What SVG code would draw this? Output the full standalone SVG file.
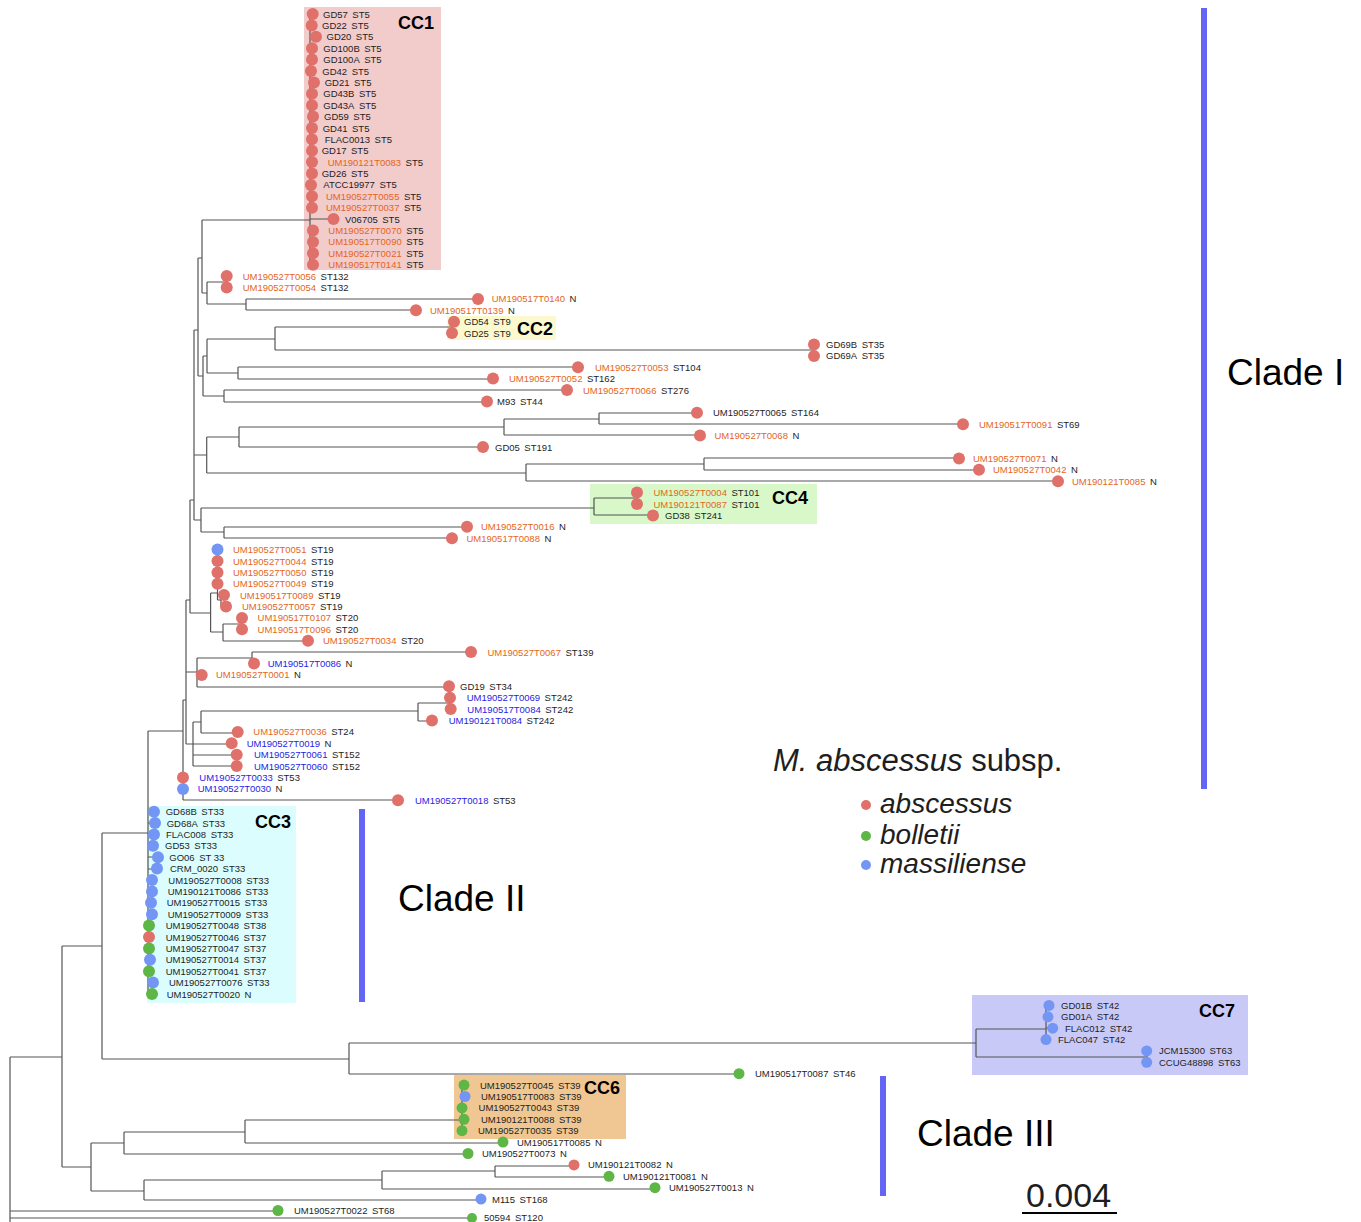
<svg xmlns="http://www.w3.org/2000/svg" width="1361" height="1222" viewBox="0 0 1361 1222">
<style>
text{font-family:"Liberation Sans",Arial,Helvetica,sans-serif;fill:#1e1e1e}
.t{font-size:9.5px}
.o{fill:#e4661c}
.b{fill:#2424e6}
.ab{fill:#e0706a}
.bo{fill:#5db646}
.ma{fill:#7396f4}
.br{fill:none;stroke:#555;stroke-width:1.2}
.cc{font-size:18px;font-weight:bold;fill:#000}
.clade{font-size:37px;fill:#000}
.bar{fill:#6464f5}
</style>
<rect width="1361" height="1222" fill="#fff"/>

<!-- clonal complex shading -->
<g id="cc-boxes">
  <rect id="box-cc1" x="304" y="7" width="137" height="263" fill="#f2cbcb"/>
  <rect id="box-cc2" x="447" y="316" width="109" height="24" fill="#fcf9ce"/>
  <rect id="box-cc4" x="590" y="484" width="227" height="40" fill="#d9f8c9"/>
  <rect id="box-cc3" x="147" y="806" width="149" height="197" fill="#dbfdfd"/>
  <rect id="box-cc7" x="972" y="995" width="276" height="80" fill="#c9c9f7"/>
  <rect id="box-cc6" x="454" y="1075" width="172" height="64" fill="#f0c792"/>
</g>

<!-- branches -->
<g id="connectors" class="br">
  <!-- root and deep splits -->
  <path d="M10,1057V1230M10,1057H62M62,946V1167M62,946H102M102,833V1059M102,833H148M102,1059H349"/>
  <path d="M10,1211H278M10,1218H472"/>
  <!-- CC7 and ST46 -->
  <path d="M349,1043V1074M349,1043H976M349,1074H739"/>
  <path d="M976,1029V1057M976,1029H1046M976,1057H1147M1046,1005V1040M1046,1005H1049M1046,1017H1048M1046,1028H1053M1147,1051V1062"/>
  <!-- lower clade III -->
  <path d="M62,1167H91M91,1143V1191M91,1143H124M124,1132V1154M124,1132H245M124,1154H468"/>
  <path d="M245,1120V1143M245,1120H462M245,1143H503M462,1085V1131M462,1085H464M462,1097H465M462,1119H464"/>
  <path d="M91,1191H144M144,1180V1200M144,1180H382M144,1200H481M382,1171V1189M382,1171H495M382,1189H655M495,1166V1177M495,1166H574M495,1177H609"/>
  <!-- clade II / CC3 -->
  <path d="M148,731V994M148,731H183M148,812H154M148,823H155M148,834H154M148,846H153M148,857H158M148,869H157M148,880H152M148,891H152M148,903H151M148,914H152M148,983H153M148,994H152"/>
  <!-- clade I backbone -->
  <path d="M183,700V800M183,800H398M183,700H186M186,600V744M186,600H190M186,672H197M186,744H193"/>
  <path d="M190,500V613M190,500H194M190,613H210.6M194,330V520M194,330H198M194,455H206.7M194,520H201"/>
  <path d="M198,258V376M198,258H202M198,376H203"/>
  <!-- CC1, ST132 and relatives -->
  <path d="M202,220V293M202,220H310M202,293H207M207,282V304M207,282H227M227,276V288M207,304H246M246,299V310M246,299H478M246,310H416"/>
  <path d="M310,14V265M310,219H334"/>
  <!-- CC2, GD69, ST104/ST162, ST276/ST44 -->
  <path d="M203,356V396M203,356H207M203,396H224M207,339V373M207,339H275M207,373H238"/>
  <path d="M275,327V350M275,327H452M452,321V333M275,350H814M814,344V356"/>
  <path d="M238,367V379M238,367H578M238,379H493M224,390V402M224,390H567M224,402H487"/>
  <!-- ST164/ST69, GD05, long-branch group -->
  <path d="M206.7,437V473M206.7,437H239M239,427V447M239,427H504M239,447H483M504,419V435M504,419H599M504,435H700M599,413V424M599,413H697M599,424H963"/>
  <path d="M206.7,473H526M526,464V481M526,464H704M526,481H1058M704,458V470M704,458H959M704,470H979"/>
  <!-- CC4 and T0016/T0088 -->
  <path d="M201,508V532M201,508H594M594,498V515M594,498H637M637,492V504M594,515H653M201,532H224M224,527V538M224,527H467M224,538H452"/>
  <!-- ST19 / ST20 -->
  <path d="M210.6,593V632M210.6,593H217.5M217.5,549V600M217.5,600H221M221,595V606M221,595H224M221,606H226M210.6,632H223M223,624V641M223,624H242M242,618V629M223,641H308"/>
  <!-- ST139 / GD19 -->
  <path d="M197,658V687M197,658H252M252,652V664M252,652H471M197,675H202M197,687H449"/>
  <!-- ST242, ST24, ST152 -->
  <path d="M193,722V766M193,722H201M201,711V733M201,711H418M418,703V721M418,703H450M450,698V709M418,721H432M201,733H238M193,744H232M193,755H237M193,766H237"/>
</g>

<!-- clade I leaves: CC1 -->
<g id="leaf-GD57"><circle class="ab" cx="312.7" cy="14" r="6"/><text class="t" x="323" y="17.5">GD57<tspan dx="4.5">ST5</tspan></text></g>
<g id="leaf-GD22"><circle class="ab" cx="311.7" cy="25.4" r="6"/><text class="t" x="322" y="28.9">GD22<tspan dx="4.5">ST5</tspan></text></g>
<g id="leaf-GD20"><circle class="ab" cx="316" cy="36.8" r="6"/><text class="t" x="326.5" y="40.3">GD20<tspan dx="4.5">ST5</tspan></text></g>
<g id="leaf-GD100B"><circle class="ab" cx="312" cy="48.2" r="6"/><text class="t" x="323.3" y="51.7">GD100B<tspan dx="4.5">ST5</tspan></text></g>
<g id="leaf-GD100A"><circle class="ab" cx="312" cy="59.6" r="6"/><text class="t" x="323.3" y="63.1">GD100A<tspan dx="4.5">ST5</tspan></text></g>
<g id="leaf-GD42"><circle class="ab" cx="311" cy="71" r="6"/><text class="t" x="322.3" y="74.5">GD42<tspan dx="4.5">ST5</tspan></text></g>
<g id="leaf-GD21"><circle class="ab" cx="314" cy="82.4" r="6"/><text class="t" x="324.7" y="85.9">GD21<tspan dx="4.5">ST5</tspan></text></g>
<g id="leaf-GD43B"><circle class="ab" cx="312" cy="93.8" r="6"/><text class="t" x="323.3" y="97.3">GD43B<tspan dx="4.5">ST5</tspan></text></g>
<g id="leaf-GD43A"><circle class="ab" cx="312" cy="105.2" r="6"/><text class="t" x="323.3" y="108.7">GD43A<tspan dx="4.5">ST5</tspan></text></g>
<g id="leaf-GD59"><circle class="ab" cx="313" cy="116.6" r="6"/><text class="t" x="324" y="120.1">GD59<tspan dx="4.5">ST5</tspan></text></g>
<g id="leaf-GD41"><circle class="ab" cx="312" cy="128" r="6"/><text class="t" x="322.7" y="131.5">GD41<tspan dx="4.5">ST5</tspan></text></g>
<g id="leaf-FLAC0013"><circle class="ab" cx="312" cy="139.3" r="6"/><text class="t" x="324.7" y="142.8">FLAC0013<tspan dx="4.5">ST5</tspan></text></g>
<g id="leaf-GD17"><circle class="ab" cx="312" cy="150.7" r="6"/><text class="t" x="321.7" y="154.2">GD17<tspan dx="4.5">ST5</tspan></text></g>
<g id="leaf-UM190121T0083"><circle class="ab" cx="312" cy="162.1" r="6"/><text class="t" x="327.7" y="165.6"><tspan class="o">UM190121T0083</tspan><tspan dx="4.5">ST5</tspan></text></g>
<g id="leaf-GD26"><circle class="ab" cx="312" cy="173.5" r="6"/><text class="t" x="321.7" y="177">GD26<tspan dx="4.5">ST5</tspan></text></g>
<g id="leaf-ATCC19977"><circle class="ab" cx="311" cy="184.9" r="6"/><text class="t" x="323.3" y="188.4">ATCC19977<tspan dx="4.5">ST5</tspan></text></g>
<g id="leaf-UM190527T0055"><circle class="ab" cx="312" cy="196.3" r="6"/><text class="t" x="326" y="199.8"><tspan class="o">UM190527T0055</tspan><tspan dx="4.5">ST5</tspan></text></g>
<g id="leaf-UM190527T0037"><circle class="ab" cx="312" cy="207.7" r="6"/><text class="t" x="326" y="211.2"><tspan class="o">UM190527T0037</tspan><tspan dx="4.5">ST5</tspan></text></g>
<g id="leaf-V06705"><circle class="ab" cx="333.5" cy="219.1" r="6"/><text class="t" x="345" y="222.6">V06705<tspan dx="4.5">ST5</tspan></text></g>
<g id="leaf-UM190527T0070"><circle class="ab" cx="313" cy="230.5" r="6"/><text class="t" x="328.3" y="234"><tspan class="o">UM190527T0070</tspan><tspan dx="4.5">ST5</tspan></text></g>
<g id="leaf-UM190517T0090"><circle class="ab" cx="313" cy="241.9" r="6"/><text class="t" x="328.3" y="245.4"><tspan class="o">UM190517T0090</tspan><tspan dx="4.5">ST5</tspan></text></g>
<g id="leaf-UM190527T0021"><circle class="ab" cx="313" cy="253.3" r="6"/><text class="t" x="328.3" y="256.8"><tspan class="o">UM190527T0021</tspan><tspan dx="4.5">ST5</tspan></text></g>
<g id="leaf-UM190517T0141"><circle class="ab" cx="313" cy="264.7" r="6"/><text class="t" x="328.3" y="268.2"><tspan class="o">UM190517T0141</tspan><tspan dx="4.5">ST5</tspan></text></g>

<!-- clade I leaves: remaining -->
<g id="leaf-UM190527T0056"><circle class="ab" cx="226.7" cy="276.1" r="6"/><text class="t" x="242.7" y="279.6"><tspan class="o">UM190527T0056</tspan><tspan dx="4.5">ST132</tspan></text></g>
<g id="leaf-UM190527T0054"><circle class="ab" cx="226.7" cy="287.5" r="6"/><text class="t" x="242.7" y="291"><tspan class="o">UM190527T0054</tspan><tspan dx="4.5">ST132</tspan></text></g>
<g id="leaf-UM190517T0140"><circle class="ab" cx="478" cy="298.9" r="6"/><text class="t" x="491.7" y="302.4"><tspan class="o">UM190517T0140</tspan><tspan dx="4.5">N</tspan></text></g>
<g id="leaf-UM190517T0139"><circle class="ab" cx="416" cy="310.3" r="6"/><text class="t" x="430" y="313.8"><tspan class="o">UM190517T0139</tspan><tspan dx="4.5">N</tspan></text></g>
<g id="leaf-GD54"><circle class="ab" cx="454" cy="321.7" r="6"/><text class="t" x="464" y="325.2">GD54<tspan dx="4.5">ST9</tspan></text></g>
<g id="leaf-GD25"><circle class="ab" cx="452" cy="333.1" r="6"/><text class="t" x="464" y="336.6">GD25<tspan dx="4.5">ST9</tspan></text></g>
<g id="leaf-GD69B"><circle class="ab" cx="814" cy="344.5" r="6"/><text class="t" x="826" y="348">GD69B<tspan dx="4.5">ST35</tspan></text></g>
<g id="leaf-GD69A"><circle class="ab" cx="814" cy="355.9" r="6"/><text class="t" x="826" y="359.4">GD69A<tspan dx="4.5">ST35</tspan></text></g>
<g id="leaf-UM190527T0053"><circle class="ab" cx="578" cy="367.2" r="6"/><text class="t" x="595" y="370.7"><tspan class="o">UM190527T0053</tspan><tspan dx="4.5">ST104</tspan></text></g>
<g id="leaf-UM190527T0052"><circle class="ab" cx="493" cy="378.6" r="6"/><text class="t" x="509" y="382.1"><tspan class="o">UM190527T0052</tspan><tspan dx="4.5">ST162</tspan></text></g>
<g id="leaf-UM190527T0066"><circle class="ab" cx="567" cy="390" r="6"/><text class="t" x="583" y="393.5"><tspan class="o">UM190527T0066</tspan><tspan dx="4.5">ST276</tspan></text></g>
<g id="leaf-M93"><circle class="ab" cx="487" cy="401.4" r="6"/><text class="t" x="497" y="404.9">M93<tspan dx="4.5">ST44</tspan></text></g>
<g id="leaf-UM190527T0065"><circle class="ab" cx="697" cy="412.8" r="6"/><text class="t" x="713" y="416.3">UM190527T0065<tspan dx="4.5">ST164</tspan></text></g>
<g id="leaf-UM190517T0091"><circle class="ab" cx="963" cy="424.2" r="6"/><text class="t" x="979" y="427.7"><tspan class="o">UM190517T0091</tspan><tspan dx="4.5">ST69</tspan></text></g>
<g id="leaf-UM190527T0068"><circle class="ab" cx="700" cy="435.6" r="6"/><text class="t" x="714.5" y="439.1"><tspan class="o">UM190527T0068</tspan><tspan dx="4.5">N</tspan></text></g>
<g id="leaf-GD05"><circle class="ab" cx="483" cy="447" r="6"/><text class="t" x="495" y="450.5">GD05<tspan dx="4.5">ST191</tspan></text></g>
<g id="leaf-UM190527T0071"><circle class="ab" cx="959" cy="458.4" r="6"/><text class="t" x="973" y="461.9"><tspan class="o">UM190527T0071</tspan><tspan dx="4.5">N</tspan></text></g>
<g id="leaf-UM190527T0042"><circle class="ab" cx="979" cy="469.8" r="6"/><text class="t" x="993" y="473.3"><tspan class="o">UM190527T0042</tspan><tspan dx="4.5">N</tspan></text></g>
<g id="leaf-UM190121T0085"><circle class="ab" cx="1058" cy="481.2" r="6"/><text class="t" x="1072" y="484.7"><tspan class="o">UM190121T0085</tspan><tspan dx="4.5">N</tspan></text></g>
<g id="leaf-UM190527T0004"><circle class="ab" cx="637" cy="492.6" r="6"/><text class="t" x="653.5" y="496.1"><tspan class="o">UM190527T0004</tspan><tspan dx="4.5">ST101</tspan></text></g>
<g id="leaf-UM190121T0087"><circle class="ab" cx="637" cy="504" r="6"/><text class="t" x="653.5" y="507.5"><tspan class="o">UM190121T0087</tspan><tspan dx="4.5">ST101</tspan></text></g>
<g id="leaf-GD38"><circle class="ab" cx="653" cy="515.4" r="6"/><text class="t" x="665" y="518.9">GD38<tspan dx="4.5">ST241</tspan></text></g>
<g id="leaf-UM190527T0016"><circle class="ab" cx="467" cy="526.8" r="6"/><text class="t" x="481" y="530.3"><tspan class="o">UM190527T0016</tspan><tspan dx="4.5">N</tspan></text></g>
<g id="leaf-UM190517T0088"><circle class="ab" cx="452" cy="538.2" r="6"/><text class="t" x="466.5" y="541.7"><tspan class="o">UM190517T0088</tspan><tspan dx="4.5">N</tspan></text></g>
<g id="leaf-UM190527T0051"><circle class="ma" cx="217.5" cy="549.6" r="6"/><text class="t" x="233" y="553.1"><tspan class="o">UM190527T0051</tspan><tspan dx="4.5">ST19</tspan></text></g>
<g id="leaf-UM190527T0044"><circle class="ab" cx="217.5" cy="561" r="6"/><text class="t" x="233" y="564.5"><tspan class="o">UM190527T0044</tspan><tspan dx="4.5">ST19</tspan></text></g>
<g id="leaf-UM190527T0050"><circle class="ab" cx="217.5" cy="572.4" r="6"/><text class="t" x="233" y="575.9"><tspan class="o">UM190527T0050</tspan><tspan dx="4.5">ST19</tspan></text></g>
<g id="leaf-UM190527T0049"><circle class="ab" cx="217.5" cy="583.8" r="6"/><text class="t" x="233" y="587.3"><tspan class="o">UM190527T0049</tspan><tspan dx="4.5">ST19</tspan></text></g>
<g id="leaf-UM190517T0089"><circle class="ab" cx="224" cy="595.1" r="6"/><text class="t" x="240" y="598.6"><tspan class="o">UM190517T0089</tspan><tspan dx="4.5">ST19</tspan></text></g>
<g id="leaf-UM190527T0057"><circle class="ab" cx="226" cy="606.5" r="6"/><text class="t" x="242" y="610"><tspan class="o">UM190527T0057</tspan><tspan dx="4.5">ST19</tspan></text></g>
<g id="leaf-UM190517T0107"><circle class="ab" cx="242" cy="617.9" r="6"/><text class="t" x="257.6" y="621.4"><tspan class="o">UM190517T0107</tspan><tspan dx="4.5">ST20</tspan></text></g>
<g id="leaf-UM190517T0096"><circle class="ab" cx="242" cy="629.3" r="6"/><text class="t" x="257.6" y="632.8"><tspan class="o">UM190517T0096</tspan><tspan dx="4.5">ST20</tspan></text></g>
<g id="leaf-UM190527T0034"><circle class="ab" cx="308" cy="640.7" r="6"/><text class="t" x="323" y="644.2"><tspan class="o">UM190527T0034</tspan><tspan dx="4.5">ST20</tspan></text></g>
<g id="leaf-UM190527T0067"><circle class="ab" cx="471" cy="652.1" r="6"/><text class="t" x="487.5" y="655.6"><tspan class="o">UM190527T0067</tspan><tspan dx="4.5">ST139</tspan></text></g>
<g id="leaf-UM190517T0086"><circle class="ab" cx="254" cy="663.5" r="6"/><text class="t" x="267.7" y="667"><tspan class="b">UM190517T0086</tspan><tspan dx="4.5">N</tspan></text></g>
<g id="leaf-UM190527T0001"><circle class="ab" cx="201.7" cy="674.9" r="6"/><text class="t" x="216" y="678.4"><tspan class="o">UM190527T0001</tspan><tspan dx="4.5">N</tspan></text></g>
<g id="leaf-GD19"><circle class="ab" cx="449" cy="686.3" r="6"/><text class="t" x="460" y="689.8">GD19<tspan dx="4.5">ST34</tspan></text></g>
<g id="leaf-UM190527T0069"><circle class="ab" cx="450" cy="697.7" r="6"/><text class="t" x="466.7" y="701.2"><tspan class="b">UM190527T0069</tspan><tspan dx="4.5">ST242</tspan></text></g>
<g id="leaf-UM190517T0084"><circle class="ab" cx="450.7" cy="709.1" r="6"/><text class="t" x="467.3" y="712.6"><tspan class="b">UM190517T0084</tspan><tspan dx="4.5">ST242</tspan></text></g>
<g id="leaf-UM190121T0084"><circle class="ab" cx="432" cy="720.5" r="6"/><text class="t" x="448.7" y="724"><tspan class="b">UM190121T0084</tspan><tspan dx="4.5">ST242</tspan></text></g>
<g id="leaf-UM190527T0036"><circle class="ab" cx="237.7" cy="731.9" r="6"/><text class="t" x="253.3" y="735.4"><tspan class="o">UM190527T0036</tspan><tspan dx="4.5">ST24</tspan></text></g>
<g id="leaf-UM190527T0019"><circle class="ab" cx="231.7" cy="743.3" r="6"/><text class="t" x="246.7" y="746.8"><tspan class="b">UM190527T0019</tspan><tspan dx="4.5">N</tspan></text></g>
<g id="leaf-UM190527T0061"><circle class="ab" cx="236.7" cy="754.7" r="6"/><text class="t" x="254" y="758.2"><tspan class="b">UM190527T0061</tspan><tspan dx="4.5">ST152</tspan></text></g>
<g id="leaf-UM190527T0060"><circle class="ab" cx="236.7" cy="766.1" r="6"/><text class="t" x="254" y="769.6"><tspan class="b">UM190527T0060</tspan><tspan dx="4.5">ST152</tspan></text></g>
<g id="leaf-UM190527T0033"><circle class="ab" cx="183" cy="777.5" r="6"/><text class="t" x="199.3" y="781"><tspan class="b">UM190527T0033</tspan><tspan dx="4.5">ST53</tspan></text></g>
<g id="leaf-UM190527T0030"><circle class="ma" cx="183" cy="788.9" r="6"/><text class="t" x="197.7" y="792.4"><tspan class="b">UM190527T0030</tspan><tspan dx="4.5">N</tspan></text></g>
<g id="leaf-UM190527T0018"><circle class="ab" cx="398" cy="800.3" r="6"/><text class="t" x="415" y="803.8"><tspan class="b">UM190527T0018</tspan><tspan dx="4.5">ST53</tspan></text></g>

<!-- clade II leaves: CC3 -->
<g id="leaf-GD68B"><circle class="ma" cx="154" cy="811.7" r="6"/><text class="t" x="165.7" y="815.2">GD68B<tspan dx="4.5">ST33</tspan></text></g>
<g id="leaf-GD68A"><circle class="ma" cx="155" cy="823" r="6"/><text class="t" x="166.7" y="826.5">GD68A<tspan dx="4.5">ST33</tspan></text></g>
<g id="leaf-FLAC008"><circle class="ma" cx="154" cy="834.4" r="6"/><text class="t" x="166" y="837.9">FLAC008<tspan dx="4.5">ST33</tspan></text></g>
<g id="leaf-GD53"><circle class="ma" cx="153" cy="845.8" r="6"/><text class="t" x="165" y="849.3">GD53<tspan dx="4.5">ST33</tspan></text></g>
<g id="leaf-GO06"><circle class="ma" cx="158" cy="857.2" r="6"/><text class="t" x="169.3" y="860.7">GO06<tspan dx="4.5">ST 33</tspan></text></g>
<g id="leaf-CRM_0020"><circle class="ma" cx="157" cy="868.6" r="6"/><text class="t" x="170" y="872.1">CRM_0020<tspan dx="4.5">ST33</tspan></text></g>
<g id="leaf-UM190527T0008"><circle class="ma" cx="152" cy="880" r="6"/><text class="t" x="168.3" y="883.5">UM190527T0008<tspan dx="4.5">ST33</tspan></text></g>
<g id="leaf-UM190121T0086"><circle class="ma" cx="152" cy="891.4" r="6"/><text class="t" x="167.7" y="894.9">UM190121T0086<tspan dx="4.5">ST33</tspan></text></g>
<g id="leaf-UM190527T0015"><circle class="ma" cx="151" cy="902.8" r="6"/><text class="t" x="166.7" y="906.3">UM190527T0015<tspan dx="4.5">ST33</tspan></text></g>
<g id="leaf-UM190527T0009"><circle class="ma" cx="152" cy="914.2" r="6"/><text class="t" x="167.7" y="917.7">UM190527T0009<tspan dx="4.5">ST33</tspan></text></g>
<g id="leaf-UM190527T0048"><circle class="bo" cx="149" cy="925.6" r="6"/><text class="t" x="165.7" y="929.1">UM190527T0048<tspan dx="4.5">ST38</tspan></text></g>
<g id="leaf-UM190527T0046"><circle class="ab" cx="149" cy="937" r="6"/><text class="t" x="165.7" y="940.5">UM190527T0046<tspan dx="4.5">ST37</tspan></text></g>
<g id="leaf-UM190527T0047"><circle class="bo" cx="149" cy="948.4" r="6"/><text class="t" x="165.7" y="951.9">UM190527T0047<tspan dx="4.5">ST37</tspan></text></g>
<g id="leaf-UM190527T0014"><circle class="ma" cx="150" cy="959.8" r="6"/><text class="t" x="165.7" y="963.3">UM190527T0014<tspan dx="4.5">ST37</tspan></text></g>
<g id="leaf-UM190527T0041"><circle class="bo" cx="149" cy="971.2" r="6"/><text class="t" x="165.7" y="974.7">UM190527T0041<tspan dx="4.5">ST37</tspan></text></g>
<g id="leaf-UM190527T0076"><circle class="ma" cx="153" cy="982.6" r="6"/><text class="t" x="169" y="986.1">UM190527T0076<tspan dx="4.5">ST33</tspan></text></g>
<g id="leaf-UM190527T0020"><circle class="bo" cx="152" cy="994" r="6"/><text class="t" x="166.7" y="997.5">UM190527T0020<tspan dx="4.5">N</tspan></text></g>

<!-- clade III leaves -->
<g id="leaf-GD01B"><circle class="ma" cx="1049" cy="1005.4" r="5.5"/><text class="t" x="1061" y="1008.9">GD01B<tspan dx="4.5">ST42</tspan></text></g>
<g id="leaf-GD01A"><circle class="ma" cx="1048" cy="1016.8" r="5.5"/><text class="t" x="1061" y="1020.3">GD01A<tspan dx="4.5">ST42</tspan></text></g>
<g id="leaf-FLAC012"><circle class="ma" cx="1052.7" cy="1028.2" r="5.5"/><text class="t" x="1065" y="1031.7">FLAC012<tspan dx="4.5">ST42</tspan></text></g>
<g id="leaf-FLAC047"><circle class="ma" cx="1046" cy="1039.6" r="5.5"/><text class="t" x="1058" y="1043.1">FLAC047<tspan dx="4.5">ST42</tspan></text></g>
<g id="leaf-JCM15300"><circle class="ma" cx="1146.7" cy="1050.9" r="5.5"/><text class="t" x="1159" y="1054.4">JCM15300<tspan dx="4.5">ST63</tspan></text></g>
<g id="leaf-CCUG48898"><circle class="ma" cx="1146.7" cy="1062.3" r="5.5"/><text class="t" x="1159" y="1065.8">CCUG48898<tspan dx="4.5">ST63</tspan></text></g>
<g id="leaf-UM190517T0087"><circle class="bo" cx="739" cy="1073.7" r="5.5"/><text class="t" x="755" y="1077.2">UM190517T0087<tspan dx="4.5">ST46</tspan></text></g>
<g id="leaf-UM190527T0045"><circle class="bo" cx="464" cy="1085.1" r="5.5"/><text class="t" x="480" y="1088.6">UM190527T0045<tspan dx="4.5">ST39</tspan></text></g>
<g id="leaf-UM190517T0083"><circle class="ma" cx="465" cy="1096.5" r="5.5"/><text class="t" x="481" y="1100">UM190517T0083<tspan dx="4.5">ST39</tspan></text></g>
<g id="leaf-UM190527T0043"><circle class="bo" cx="462" cy="1107.9" r="5.5"/><text class="t" x="478.6" y="1111.4">UM190527T0043<tspan dx="4.5">ST39</tspan></text></g>
<g id="leaf-UM190121T0088"><circle class="bo" cx="464" cy="1119.3" r="5.5"/><text class="t" x="481" y="1122.8">UM190121T0088<tspan dx="4.5">ST39</tspan></text></g>
<g id="leaf-UM190527T0035"><circle class="bo" cx="462" cy="1130.7" r="5.5"/><text class="t" x="478" y="1134.2">UM190527T0035<tspan dx="4.5">ST39</tspan></text></g>
<g id="leaf-UM190517T0085"><circle class="bo" cx="503" cy="1142.1" r="5.5"/><text class="t" x="517" y="1145.6">UM190517T0085<tspan dx="4.5">N</tspan></text></g>
<g id="leaf-UM190527T0073"><circle class="bo" cx="468" cy="1153.5" r="5.5"/><text class="t" x="482" y="1157">UM190527T0073<tspan dx="4.5">N</tspan></text></g>
<g id="leaf-UM190121T0082"><circle class="ab" cx="574" cy="1164.9" r="5.5"/><text class="t" x="588" y="1168.4">UM190121T0082<tspan dx="4.5">N</tspan></text></g>
<g id="leaf-UM190121T0081"><circle class="bo" cx="609" cy="1176.3" r="5.5"/><text class="t" x="623" y="1179.8">UM190121T0081<tspan dx="4.5">N</tspan></text></g>
<g id="leaf-UM190527T0013"><circle class="bo" cx="655" cy="1187.7" r="5.5"/><text class="t" x="669" y="1191.2">UM190527T0013<tspan dx="4.5">N</tspan></text></g>
<g id="leaf-M115"><circle class="ma" cx="481" cy="1199.1" r="5.5"/><text class="t" x="492" y="1202.6">M115<tspan dx="4.5">ST168</tspan></text></g>
<g id="leaf-UM190527T0022"><circle class="bo" cx="278" cy="1210.5" r="5.5"/><text class="t" x="294" y="1214">UM190527T0022<tspan dx="4.5">ST68</tspan></text></g>
<g id="leaf-50594"><circle class="bo" cx="472" cy="1218" r="5"/><text class="t" x="484" y="1221.3">50594<tspan dx="4.5">ST120</tspan></text></g>

<!-- clonal complex labels -->
<g id="cc-labels">
  <text class="cc" x="398" y="28.5">CC1</text>
  <text class="cc" x="517" y="334.5">CC2</text>
  <text class="cc" x="772" y="503.5">CC4</text>
  <text class="cc" x="255" y="828">CC3</text>
  <text class="cc" x="1199" y="1017">CC7</text>
  <text class="cc" x="584" y="1094">CC6</text>
</g>

<!-- clade bars and names -->
<g id="clades">
  <rect class="bar" x="1201" y="8" width="6" height="781"/>
  <rect class="bar" x="359" y="809" width="6" height="193"/>
  <rect class="bar" x="880" y="1076" width="6" height="120"/>
  <text class="clade" x="1227" y="385">Clade I</text>
  <text class="clade" x="398" y="911">Clade II</text>
  <text class="clade" x="917" y="1146">Clade III</text>
</g>

<!-- legend -->
<g id="legend">
  <text x="773" y="771" font-size="31"><tspan font-style="italic">M. abscessus</tspan> subsp.</text>
  <circle class="ab" cx="866" cy="805" r="5"/>
  <circle class="bo" cx="866" cy="836" r="5"/>
  <circle class="ma" cx="866" cy="865" r="5"/>
  <text x="880" y="813" font-size="28" font-style="italic">abscessus</text>
  <text x="880" y="844" font-size="28" font-style="italic">bolletii</text>
  <text x="880" y="873" font-size="28" font-style="italic">massiliense</text>
</g>

<!-- scale bar -->
<g id="scale">
  <text x="1026" y="1207" font-size="34">0.004</text>
  <line x1="1022" y1="1213" x2="1117" y2="1213" stroke="#000" stroke-width="2"/>
</g>
</svg>
